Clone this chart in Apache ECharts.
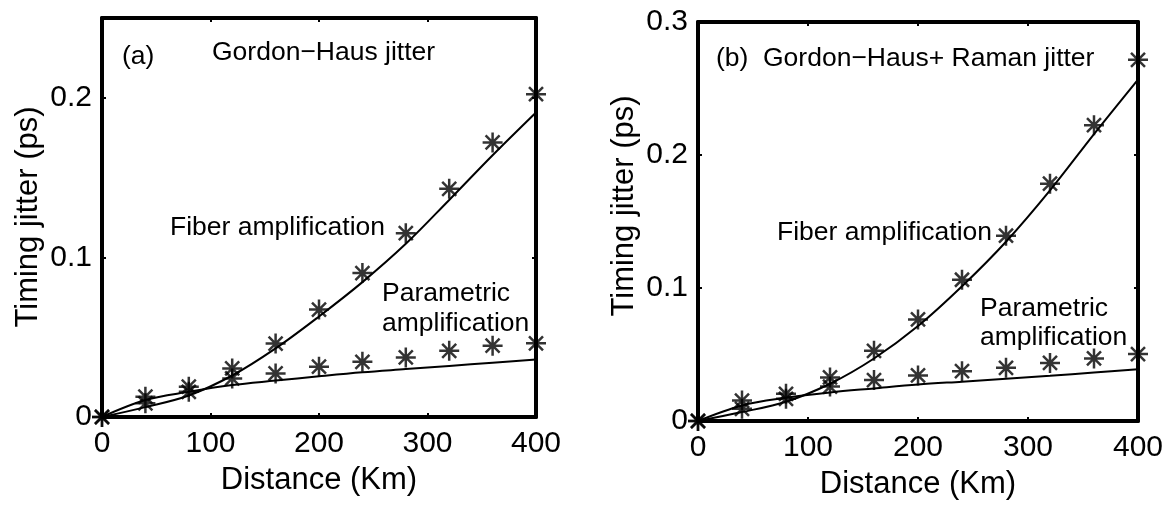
<!DOCTYPE html>
<html>
<head>
<meta charset="utf-8">
<script src="https://cdn.jsdelivr.net/npm/echarts@6/dist/echarts.min.js"></script>
<style>
  html, body { margin: 0; padding: 0; background: #fff; }
  #chart { width: 1172px; height: 505px; }
</style>
</head>
<body>
<div id="chart"></div>
<script>
// ---- data ----
const distance = [0, 40, 80, 120, 160, 200, 240, 280, 320, 360, 400];

// panel (a) Gordon-Haus jitter
const fiberA      = [0, 0.0086, 0.0158, 0.0304, 0.046, 0.0673, 0.0902, 0.1152, 0.143, 0.172, 0.2023];
const paramA      = [0, 0.0127, 0.019, 0.0242, 0.0273, 0.0315, 0.0346, 0.0373, 0.0415, 0.0447, 0.0462];
const fiberFitA   = [0, 0.0062, 0.0135, 0.026, 0.043, 0.063, 0.0845, 0.1085, 0.136, 0.164, 0.1908];
const paramFitA   = [0, 0.0106, 0.0158, 0.020, 0.0228, 0.0255, 0.028, 0.030, 0.032, 0.034, 0.036];

// panel (b) Gordon-Haus + Raman jitter
const fiberB      = [0, 0.0092, 0.0167, 0.0328, 0.0528, 0.0764, 0.1062, 0.1393, 0.1784, 0.2224, 0.2716];
const paramB      = [0, 0.0154, 0.0204, 0.0259, 0.0308, 0.0343, 0.0375, 0.0400, 0.0437, 0.047, 0.0503];
const fiberFitB   = [0, 0.0067, 0.0145, 0.028, 0.047, 0.0714, 0.1013, 0.1348, 0.1734, 0.2157, 0.2567];
const paramFitB   = [0, 0.0117, 0.0175, 0.0215, 0.0245, 0.0274, 0.0296, 0.0318, 0.034, 0.0365, 0.039];

const xTickStep = 100, xMax = 400;
const yTickStep = 0.1, yMaxA = 0.25, yMaxB = 0.3;

const xTitle = 'Distance (Km)';
const yTitle = 'Timing jitter (ps)';

// ---- chart ----
const FONT = '"Liberation Sans", Arial, Helvetica, sans-serif';
const pair = (xs, ys) => xs.map((x, i) => [x, ys[i]]);
const STAR = 'path://M0,-10L0,10M-10,0L10,0M-7,-7L7,7M-7,7L7,-7';

function xAx(grid, pos) {
  const main = pos === 'bottom';
  return {
    type: 'value', gridIndex: grid, position: pos, min: 0, max: xMax, interval: xTickStep,
    name: main ? xTitle : '', nameLocation: 'middle', nameGap: 48,
    nameTextStyle: { fontFamily: FONT, fontSize: 31, color: '#000' },
    axisLine: { show: true, onZero: false, lineStyle: { color: '#000', width: 4 } },
    axisTick: { show: true, inside: true, length: 4, lineStyle: { color: '#000', width: 2 } },
    axisLabel: { show: main, margin: 12, fontFamily: FONT, fontSize: 30, color: '#000' },
    splitLine: { show: false }
  };
}
function yAx(grid, pos, max) {
  const main = pos === 'left';
  return {
    type: 'value', gridIndex: grid, position: pos, min: 0, max: max, interval: yTickStep,
    axisLine: { show: true, onZero: false, lineStyle: { color: '#000', width: 4 } },
    axisTick: { show: true, inside: true, length: 4, lineStyle: { color: '#000', width: 2 } },
    axisLabel: { show: main, margin: 10, fontFamily: FONT, fontSize: 30, color: '#000',
      showMaxLabel: max === yMaxB,
      formatter: v => (Math.round(v * 10) / 10).toString() },
    splitLine: { show: false }
  };
}
function fit(idx, ys) {
  return { type: 'line', xAxisIndex: idx, yAxisIndex: idx, data: pair(distance, ys),
    smooth: 0.35, showSymbol: false, clip: false, silent: true,
    lineStyle: { color: '#000', width: 2 }, z: 3 };
}
function stars(idx, ys) {
  return { type: 'scatter', xAxisIndex: idx, yAxisIndex: idx, data: pair(distance, ys),
    symbol: STAR, symbolSize: 20, clip: false, silent: true,
    itemStyle: { color: 'rgba(0,0,0,0)', borderColor: '#000', borderWidth: 2.5 }, z: 4 };
}
function txt(x, y, s, rot) {
  return { type: 'text', x: x, y: y, rotation: rot || 0, silent: true,
    style: { text: s, font: (rot ? '31px ' : '26.5px ') + FONT, fill: '#000',
      textAlign: rot ? 'center' : 'left', align: rot ? 'center' : 'left',
      textVerticalAlign: 'middle', verticalAlign: 'middle' } };
}

const chart = echarts.init(document.getElementById('chart'), null, { renderer: 'canvas' });
chart.setOption({
  backgroundColor: '#fff',
  animation: false,
  grid: [
    { left: 102, top: 18, width: 434, height: 399 },
    { left: 698, top: 22, width: 440, height: 402 }
  ],
  xAxis: [xAx(0, 'bottom'), xAx(1, 'bottom'), xAx(0, 'top'), xAx(1, 'top')],
  yAxis: [yAx(0, 'left', yMaxA), yAx(1, 'left', yMaxB), yAx(0, 'right', yMaxA), yAx(1, 'right', yMaxB)],
  series: [
    fit(0, fiberFitA), fit(0, paramFitA), stars(0, fiberA), stars(0, paramA),
    fit(1, fiberFitB), fit(1, paramFitB), stars(1, fiberB), stars(1, paramB)
  ],
  graphic: [
    txt(122, 57, '(a)'),
    txt(212, 53, 'Gordon\u2212Haus jitter'),
    txt(170, 228, 'Fiber amplification'),
    txt(382, 294, 'Parametric'),
    txt(382, 324, 'amplification'),
    txt(716, 59, '(b)'),
    txt(763, 59, 'Gordon\u2212Haus+ Raman jitter'),
    txt(777, 233, 'Fiber amplification'),
    txt(980, 309, 'Parametric'),
    txt(980, 338, 'amplification'),
    txt(28, 217, yTitle, Math.PI / 2),
    txt(624, 206, yTitle, Math.PI / 2)
  ]
});
</script>
</body>
</html>
